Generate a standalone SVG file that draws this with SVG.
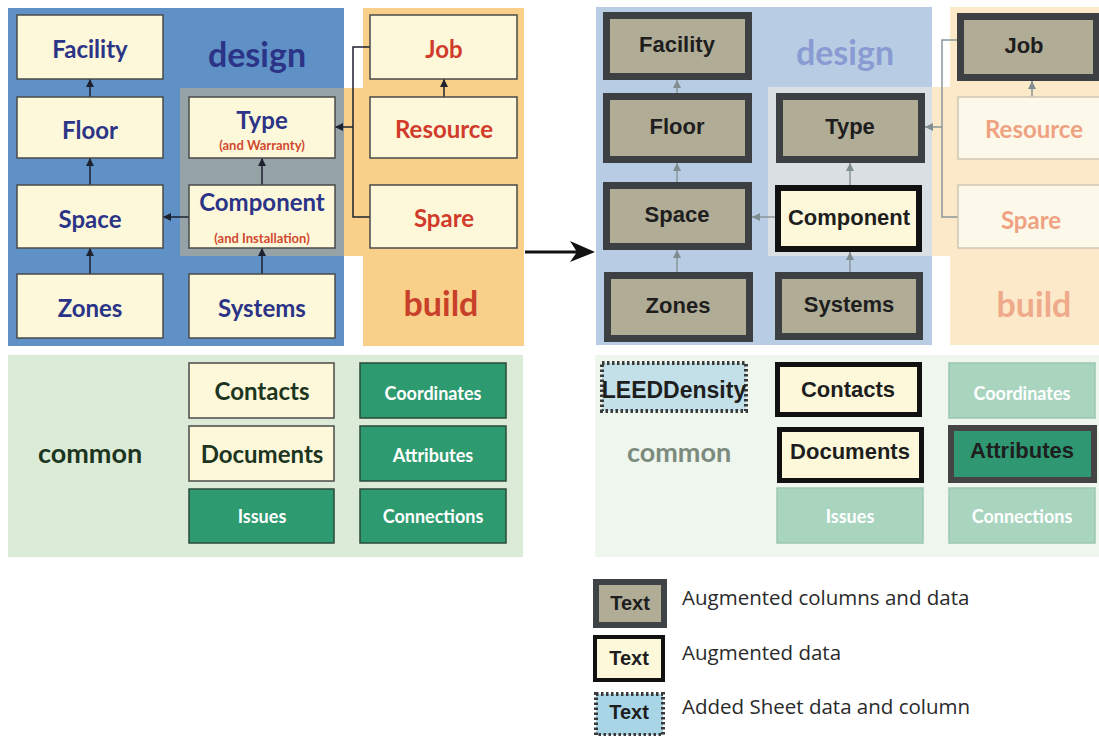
<svg xmlns="http://www.w3.org/2000/svg" width="1099" height="736" viewBox="0 0 1099 736">
<style>
.cal{font-family:Lato,"Open Sans","Liberation Sans",sans-serif;font-weight:bold;text-anchor:middle}
.ari{font-family:"Liberation Sans",Arial,sans-serif;font-weight:bold;text-anchor:middle;fill:#1e1e1e}
.nl{font-size:24px;fill:#2b3487}
.nr{font-size:24px;fill:#d13b2b}
.sub{font-size:13px;fill:#d0492f}
.ln{fill:#fdf8da;stroke:#4a4a4a;stroke-width:1.5}
.gb{fill:#2e9a70;stroke:#2b4a3b;stroke-width:1.5}
.gt{font-size:18px;fill:#ffffff}
.rk{fill:#b0ac96;stroke:#3d4043;stroke-width:7}
.rt{font-size:22px}
.rfade{fill:#fdf9ea;stroke:#cfc6b4;stroke-width:1.5}
.rft{font-size:24px;fill:#efa282}
.gf{fill:#a9d5bf;stroke:#9cc6b0;stroke-width:1.5}
.gft{font-size:18px;fill:#ffffff}
.cl{fill:none;stroke:#1d2130;stroke-width:1.5}
.cr{fill:none;stroke:#8a9599;stroke-width:1.5}
.dot{stroke:#3a3a3a;stroke-width:4;stroke-dasharray:2.5 2.5}
.leg{font-family:"Open Sans","Liberation Sans",sans-serif;font-size:20.5px;fill:#2a2a2a}
</style>
<defs>
<marker id="ahL" viewBox="0 0 10 10" refX="10" refY="5" markerWidth="8" markerHeight="8" markerUnits="userSpaceOnUse" orient="auto"><path d="M0,0 L10,5 L0,10 z" fill="#1d2130"/></marker>
<marker id="ahR" viewBox="0 0 10 10" refX="10" refY="5" markerWidth="8" markerHeight="8" markerUnits="userSpaceOnUse" orient="auto"><path d="M0,0 L10,5 L0,10 z" fill="#7f8c90"/></marker>
</defs>
<rect width="1099" height="736" fill="#ffffff"/>

<!-- LEFT PANEL BACKGROUNDS -->
<g id="left-bg">
<rect x="8" y="8" width="336" height="338" fill="#5f91c6"/>
<rect x="363" y="8" width="161" height="338" fill="#f9d089"/>
<rect x="180" y="88" width="164" height="168" fill="#96a3a6"/>
<rect x="344" y="88" width="19" height="168" fill="#f9d089"/>
<rect x="8" y="355" width="515" height="202" fill="#dcebd7"/>
<text class="cal" x="257" y="67" font-size="34" fill="#2b3487">design</text>
<text class="cal" x="441" y="316" font-size="34" fill="#c9402a">build</text>
<text class="cal" x="90" y="463" font-size="27" fill="#1c3520">common</text>
</g>

<!-- LEFT CONNECTORS -->
<g id="left-connectors">
<line class="cl" x1="90" y1="97" x2="90" y2="79" marker-end="url(#ahL)"/>
<line class="cl" x1="90" y1="185" x2="90" y2="158" marker-end="url(#ahL)"/>
<line class="cl" x1="90" y1="274" x2="90" y2="248" marker-end="url(#ahL)"/>
<line class="cl" x1="262" y1="185" x2="262" y2="158" marker-end="url(#ahL)"/>
<line class="cl" x1="262" y1="274" x2="262" y2="248" marker-end="url(#ahL)"/>
<line class="cl" x1="189" y1="217" x2="163" y2="217" marker-end="url(#ahL)"/>
<line class="cl" x1="444" y1="97" x2="444" y2="79" marker-end="url(#ahL)"/>
<path class="cl" d="M370,47 H353 V217 H370"/>
<line class="cl" x1="353" y1="127" x2="335" y2="127" marker-end="url(#ahL)"/>
</g>

<!-- LEFT NODES -->
<g id="L-facility"><rect class="ln" x="17" y="15" width="146" height="64"/><text class="cal nl" x="90" y="58">Facility</text></g>
<g id="L-floor"><rect class="ln" x="17" y="97" width="146" height="61"/><text class="cal nl" x="90" y="139">Floor</text></g>
<g id="L-space"><rect class="ln" x="17" y="185" width="146" height="63"/><text class="cal nl" x="90" y="228">Space</text></g>
<g id="L-zones"><rect class="ln" x="17" y="274" width="146" height="64"/><text class="cal nl" x="90" y="317">Zones</text></g>
<g id="L-type"><rect class="ln" x="189" y="97" width="146" height="61"/><text class="cal nl" x="262" y="129">Type</text><text class="cal sub" x="262" y="150">(and Warranty)</text></g>
<g id="L-component"><rect class="ln" x="189" y="185" width="146" height="63"/><text class="cal nl" x="262" y="211">Component</text><text class="cal sub" x="262" y="243">(and Installation)</text></g>
<g id="L-systems"><rect class="ln" x="189" y="274" width="146" height="64"/><text class="cal nl" x="262" y="317">Systems</text></g>
<g id="L-job"><rect class="ln" x="370" y="15" width="147" height="64"/><text class="cal nr" x="444" y="58">Job</text></g>
<g id="L-resource"><rect class="ln" x="370" y="97" width="147" height="61"/><text class="cal nr" x="444" y="138">Resource</text></g>
<g id="L-spare"><rect class="ln" x="370" y="185" width="147" height="63"/><text class="cal nr" x="444" y="227">Spare</text></g>
<g id="L-contacts"><rect class="ln" x="189" y="363" width="145" height="55"/><text class="cal" x="262" y="400" font-size="24" fill="#1c3520">Contacts</text></g>
<g id="L-documents"><rect class="ln" x="189" y="426" width="145" height="55"/><text class="cal" x="262" y="463" font-size="24" fill="#1c3520">Documents</text></g>
<g id="L-issues"><rect class="gb" x="189" y="489" width="145" height="54"/><text class="cal gt" x="262" y="523">Issues</text></g>
<g id="L-coordinates"><rect class="gb" x="360" y="363" width="146" height="55"/><text class="cal gt" x="433" y="400">Coordinates</text></g>
<g id="L-attributes"><rect class="gb" x="360" y="426" width="146" height="55"/><text class="cal gt" x="433" y="462">Attributes</text></g>
<g id="L-connections"><rect class="gb" x="360" y="489" width="146" height="54"/><text class="cal gt" x="433" y="523">Connections</text></g>

<!-- BIG ARROW -->
<g id="transition-arrow">
<line x1="525" y1="252" x2="580" y2="252" stroke="#111" stroke-width="3"/>
<path d="M595,252 L570,241 L577,252 L570,262 z" fill="#111"/>
</g>

<!-- RIGHT PANEL BACKGROUNDS -->
<g id="right-bg">
<rect x="596" y="7" width="336" height="338" fill="#b8cde3"/>
<rect x="950" y="7" width="149" height="338" fill="#fce9c9"/>
<rect x="768" y="87" width="164" height="169" fill="#d9dfe2"/>
<rect x="932" y="87" width="18" height="169" fill="#fce9c9"/>
<rect x="595" y="355" width="504" height="202" fill="#eff6ee"/>
<text class="cal" x="845" y="65" font-size="34" fill="#8a9bd3">design</text>
<text class="cal" x="1034" y="317" font-size="34" fill="#eeaa8a">build</text>
<text class="cal" x="679" y="462" font-size="27" fill="#7c8b7d">common</text>
</g>

<!-- RIGHT CONNECTORS -->
<g id="right-connectors">
<line class="cr" x1="677" y1="93" x2="677" y2="80" marker-end="url(#ahR)"/>
<line class="cr" x1="677" y1="182" x2="677" y2="163" marker-end="url(#ahR)"/>
<line class="cr" x1="677" y1="272" x2="677" y2="250" marker-end="url(#ahR)"/>
<line class="cr" x1="850" y1="185" x2="850" y2="163" marker-end="url(#ahR)"/>
<line class="cr" x1="850" y1="272" x2="850" y2="252" marker-end="url(#ahR)"/>
<line class="cr" x1="775" y1="217" x2="752" y2="217" marker-end="url(#ahR)"/>
<line class="cr" x1="1032" y1="97" x2="1032" y2="81" marker-end="url(#ahR)"/>
<path class="cr" d="M957,40 H942 V217 H958"/>
<line class="cr" x1="942" y1="127" x2="925" y2="127" marker-end="url(#ahR)"/>
</g>

<!-- RIGHT NODES -->
<g id="R-facility"><rect class="rk" x="606.5" y="15.5" width="142" height="61"/><text class="ari rt" x="677" y="52">Facility</text></g>
<g id="R-floor"><rect class="rk" x="606.5" y="96.5" width="142" height="63"/><text class="ari rt" x="677" y="134">Floor</text></g>
<g id="R-space"><rect class="rk" x="606.5" y="185.5" width="142" height="61"/><text class="ari rt" x="677" y="222">Space</text></g>
<g id="R-zones"><rect class="rk" x="607.5" y="275.5" width="142" height="63"/><text class="ari rt" x="678" y="313">Zones</text></g>
<g id="R-type"><rect class="rk" x="779.5" y="96.5" width="142" height="63"/><text class="ari rt" x="850" y="134">Type</text></g>
<g id="R-component"><rect x="778" y="188" width="141" height="61" fill="#fdf8da" stroke="#111" stroke-width="6"/><text class="ari rt" x="849" y="225">Component</text></g>
<g id="R-systems"><rect class="rk" x="778.5" y="275.5" width="141" height="61"/><text class="ari rt" x="849" y="312">Systems</text></g>
<g id="R-job"><rect class="rk" x="960.5" y="16.5" width="136" height="61"/><text class="ari rt" x="1024" y="53">Job</text></g>
<g id="R-resource"><rect class="rfade" x="958" y="97" width="160" height="62"/><text class="cal rft" x="1034" y="138">Resource</text></g>
<g id="R-spare"><rect class="rfade" x="958" y="185" width="160" height="63"/><text class="cal rft" x="1031" y="229">Spare</text></g>
<g id="R-leeddensity"><rect class="dot" x="602" y="363" width="144" height="48" fill="#c3e0e8"/><text class="ari" x="674" y="398" font-size="23">LEEDDensity</text></g>
<g id="R-contacts"><rect x="777.5" y="364.5" width="142" height="50" fill="#fdf8da" stroke="#111" stroke-width="5"/><text class="ari rt" x="848" y="397">Contacts</text></g>
<g id="R-documents"><rect x="779.5" y="429.5" width="142" height="51" fill="#fdf8da" stroke="#111" stroke-width="5"/><text class="ari rt" x="850" y="459">Documents</text></g>
<g id="R-issues"><rect class="gf" x="777" y="488" width="146" height="55"/><text class="cal gft" x="850" y="523">Issues</text></g>
<g id="R-coordinates"><rect class="gf" x="949" y="363" width="146" height="55"/><text class="cal gft" x="1022" y="400">Coordinates</text></g>
<g id="R-attributes"><rect x="951" y="428" width="143" height="52" fill="#2f9872" stroke="#444" stroke-width="6"/><text class="ari rt" x="1022" y="458">Attributes</text></g>
<g id="R-connections"><rect class="gf" x="949" y="488" width="146" height="55"/><text class="cal gft" x="1022" y="523">Connections</text></g>

<!-- LEGEND -->
<g id="legend-1"><rect x="596" y="582" width="68" height="43" fill="#b0ac96" stroke="#404346" stroke-width="6"/><text class="ari" x="630" y="610" font-size="20">Text</text><text class="leg" x="682" y="605">Augmented columns and data</text></g>
<g id="legend-2"><rect x="595" y="637" width="68" height="43" fill="#fdf8da" stroke="#111" stroke-width="4"/><text class="ari" x="629" y="665" font-size="20">Text</text><text class="leg" x="682" y="660">Augmented data</text></g>
<g id="legend-3"><rect class="dot" x="596" y="694" width="67" height="41" fill="#a9d6e6"/><text class="ari" x="629" y="719" font-size="20">Text</text><text class="leg" x="682" y="714">Added Sheet data and column</text></g>
</svg>
